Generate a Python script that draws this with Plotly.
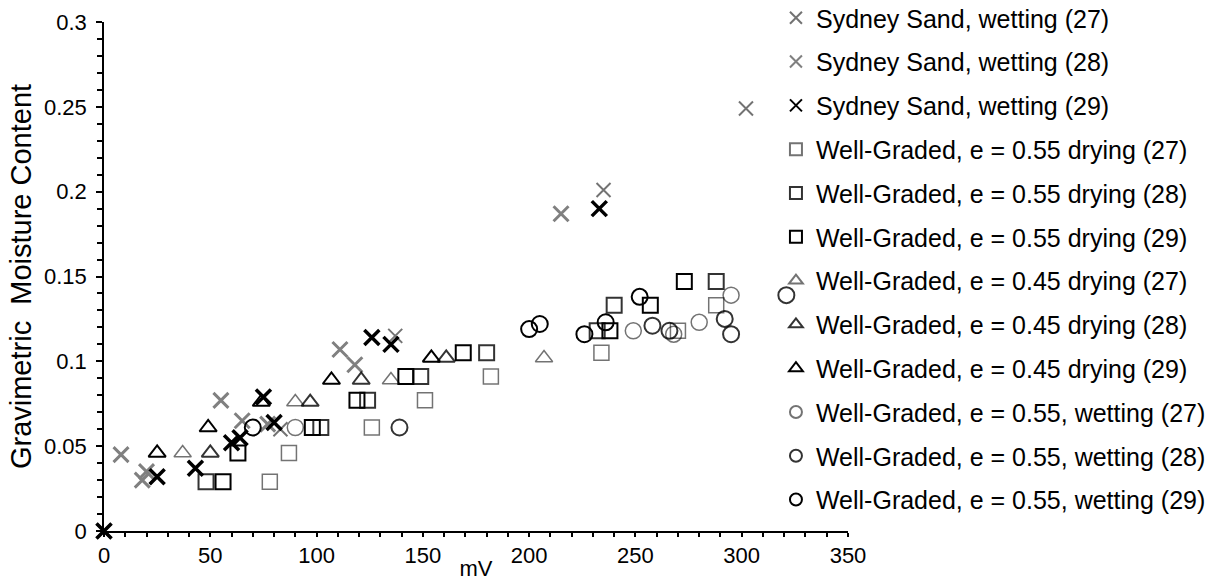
import plotly.graph_objects as go

# ---- data (mV, gravimetric moisture content) ----
ss27_x = [0, 83, 137, 235, 302]
ss27_y = [0, 0.060, 0.115, 0.201, 0.249]
ss28_x = [0, 8, 18, 20, 55, 65, 77, 111, 118, 215]
ss28_y = [0, 0.045, 0.030, 0.035, 0.077, 0.065, 0.063, 0.107, 0.098, 0.187]
ss29_x = [0, 25, 43, 60, 64, 75, 80, 126, 135, 233]
ss29_y = [0, 0.032, 0.037, 0.052, 0.055, 0.079, 0.064, 0.114, 0.110, 0.190]

wg55d27_x = [78, 87, 126, 151, 182, 234, 270, 288]
wg55d27_y = [0.029, 0.046, 0.061, 0.077, 0.091, 0.105, 0.118, 0.133]
wg55d28_x = [48, 102, 124, 149, 180, 232, 240, 288]
wg55d28_y = [0.029, 0.061, 0.077, 0.091, 0.105, 0.118, 0.133, 0.147]
wg55d29_x = [56, 63, 98, 119, 142, 169, 238, 257, 273]
wg55d29_y = [0.029, 0.046, 0.061, 0.077, 0.091, 0.105, 0.118, 0.133, 0.147]

wg45d27_x = [37, 90, 135, 207]
wg45d27_y = [0.046, 0.076, 0.089, 0.102]
wg45d28_x = [50, 97, 121, 161]
wg45d28_y = [0.046, 0.076, 0.089, 0.102]
wg45d29_x = [25, 49, 74, 107, 154]
wg45d29_y = [0.046, 0.061, 0.076, 0.089, 0.102]

wg55w27_x = [90, 249, 268, 280, 295]
wg55w27_y = [0.061, 0.118, 0.116, 0.123, 0.139]
wg55w28_x = [139, 258, 266, 292, 295, 321]
wg55w28_y = [0.061, 0.121, 0.118, 0.125, 0.116, 0.139]
wg55w29_x = [70, 200, 205, 226, 236, 252]
wg55w29_y = [0.061, 0.119, 0.122, 0.116, 0.123, 0.138]

names = [
    "Sydney Sand, wetting (27)",
    "Sydney Sand, wetting (28)",
    "Sydney Sand, wetting (29)",
    "Well-Graded, e = 0.55 drying (27)",
    "Well-Graded, e = 0.55 drying (28)",
    "Well-Graded, e = 0.55 drying (29)",
    "Well-Graded, e = 0.45 drying (27)",
    "Well-Graded, e = 0.45 drying (28)",
    "Well-Graded, e = 0.45 drying (29)",
    "Well-Graded, e = 0.55, wetting (27)",
    "Well-Graded, e = 0.55, wetting (28)",
    "Well-Graded, e = 0.55, wetting (29)",
]

DOT = "rgba(0,0,0,0.55)"
DASH = "rgba(0,0,0,0.8)"
BLK = "#000000"
GRY = "#808080"

series = [
    (ss27_x, ss27_y, "x-thin-open", 14, DOT, 2),
    (ss28_x, ss28_y, "x-thin-open", 15, GRY, 3),
    (ss29_x, ss29_y, "x-thin-open", 15, BLK, 3.5),
    (wg55d27_x, wg55d27_y, "square-open", 15, DOT, 1.5),
    (wg55d28_x, wg55d28_y, "square-open", 15, DASH, 2),
    (wg55d29_x, wg55d29_y, "square-open", 15, BLK, 2),
    (wg45d27_x, wg45d27_y, "triangle-up-open", 15, DOT, 1.5),
    (wg45d28_x, wg45d28_y, "triangle-up-open", 15, DASH, 2),
    (wg45d29_x, wg45d29_y, "triangle-up-open", 15, BLK, 2),
    (wg55w27_x, wg55w27_y, "circle-open", 16, DOT, 1.5),
    (wg55w28_x, wg55w28_y, "circle-open", 16, DASH, 2),
    (wg55w29_x, wg55w29_y, "circle-open", 16, BLK, 2),
]

fig = go.Figure()
for i, (xs, ys, sym, sz, col, lw) in enumerate(series):
    fig.add_trace(go.Scatter(
        x=xs, y=ys, mode="markers", name=names[i],
        legendgroup=f"g{i}", cliponaxis=False,
        marker=dict(symbol=sym, size=sz, color=col, line=dict(color=col, width=lw)),
    ))

FONT = "Liberation Sans, Arial, sans-serif"
fig.update_layout(
    width=1213, height=581,
    margin=dict(l=104, r=365, t=22, b=50, autoexpand=False),
    paper_bgcolor="white", plot_bgcolor="white",
    font=dict(family=FONT, size=22, color="black"),
    showlegend=True,
    legend=dict(
        xref="container", yref="paper",
        x=0.6397, y=1.053, xanchor="left", yanchor="top",
        font=dict(family=FONT, size=25, color="black"),
        tracegroupgap=8.3, bgcolor="rgba(0,0,0,0)",
        itemsizing="constant", maxheight=620,
    ),
    xaxis=dict(
        range=[0, 350], dtick=50, tick0=0,
        showline=True, linecolor="black", linewidth=1.5,
        ticks="outside", ticklen=4, tickwidth=1.5, tickcolor="black",
        minor=dict(dtick=10, ticks="outside", ticklen=4, tickwidth=1.5, tickcolor="black"),
        showgrid=False, zeroline=False,
        title=dict(text="mV", font=dict(size=22), standoff=4),
        tickfont=dict(size=22), automargin=False,
    ),
    yaxis=dict(
        range=[0, 0.3], dtick=0.05, tick0=0,
        showline=True, linecolor="black", linewidth=1.5,
        ticks="outside", ticklen=6, tickwidth=1.5, tickcolor="black",
        minor=dict(dtick=0.01, ticks="outside", ticklen=5, tickwidth=1.5, tickcolor="black"),
        showgrid=False, zeroline=False,
        ticklabelstandoff=5,
        title=dict(text="Gravimetric\u00a0 Moisture Content", font=dict(size=29), standoff=4),
        tickfont=dict(size=22), automargin=False,
    ),
)

fig.write_html("out.html")
